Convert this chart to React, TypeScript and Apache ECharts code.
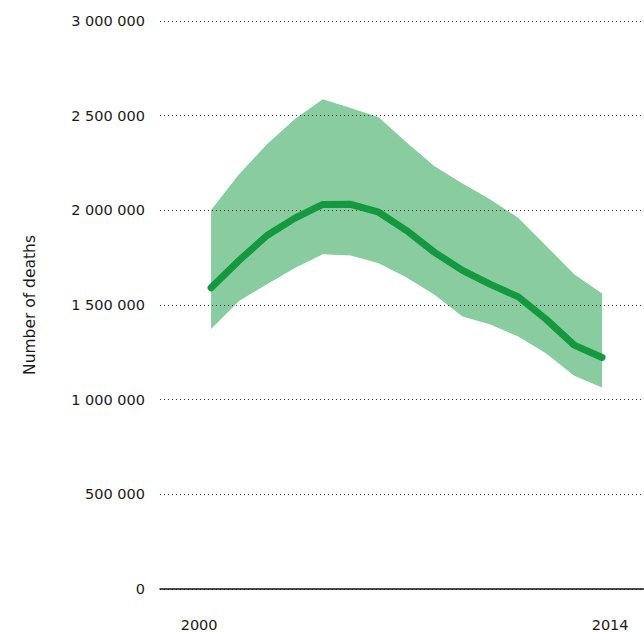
import React, { useEffect, useRef } from "react";
import * as echarts from "echarts";

const years = [2000, 2001, 2002, 2003, 2004, 2005, 2006, 2007, 2008, 2009, 2010, 2011, 2012, 2013, 2014];
const deaths = [1591000, 1735000, 1867000, 1959000, 2031000, 2032000, 1990000, 1893000, 1778000, 1683000, 1609000, 1543000, 1424000, 1288000, 1223000];
const upperBound = [2002000, 2190000, 2349000, 2482000, 2587000, 2541000, 2492000, 2358000, 2233000, 2142000, 2057000, 1960000, 1812000, 1663000, 1561000];
const lowerBound = [1373000, 1521000, 1610000, 1696000, 1768000, 1761000, 1720000, 1645000, 1554000, 1439000, 1397000, 1333000, 1244000, 1126000, 1064000];
const xLabelValues = [2000, 2014];
const yTicks = [0, 500000, 1000000, 1500000, 2000000, 2500000, 3000000];
const yAxisName = "Number of deaths";

const FONT = "DejaVu Sans";
const TEXT = "#1a1a1a";

export default function App() {
  const ref = useRef<HTMLDivElement>(null);
  useEffect(() => {
    document.body.style.margin = "0";
    const chart = echarts.init(ref.current!, undefined, { renderer: "svg" });
    const fmt = (v: number) => String(v).replace(/\B(?=(\d{3})+(?!\d))/g, " ");
    const bandData = years.map((y, i) => [y, lowerBound[i], upperBound[i]]);
    chart.setOption({
      animation: false,
      grid: { left: 160, right: 0, top: 21, bottom: 43, containLabel: false },
      xAxis: {
        type: "value",
        min: 1998.17,
        max: 2015.5,
        z: 3,
        axisLine: { show: true, lineStyle: { color: "#111", width: 1.5 } },
        axisTick: { show: false },
        splitLine: { show: false },
        axisLabel: {
          customValues: xLabelValues,
          margin: 28,
          color: TEXT,
          fontFamily: FONT,
          fontSize: 14.5,
          formatter: (v: number) => (v === 2000 ? "{a|" + v + "}" : "{b|" + v + "}"),
          rich: {
            a: { padding: [0, 24, 0, 0], color: TEXT, fontFamily: FONT, fontSize: 14.5 },
            b: { padding: [0, 0, 0, 16], color: TEXT, fontFamily: FONT, fontSize: 14.5 },
          },
        },
      },
      yAxis: {
        type: "value",
        min: yTicks[0],
        max: yTicks[yTicks.length - 1],
        interval: 500000,
        z: 3,
        name: yAxisName,
        nameLocation: "middle",
        nameGap: 122,
        nameTextStyle: { color: TEXT, fontFamily: FONT, fontSize: 15.5 },
        axisLine: { show: false },
        axisTick: { show: false },
        axisLabel: { margin: 15, color: TEXT, fontFamily: FONT, fontSize: 14.5, formatter: fmt },
        splitLine: {
          show: true,
          lineStyle: { color: "#333", type: [1, 3], width: 1 },
        },
      },
      series: [
        {
          type: "custom",
          data: bandData,
          z: 2,
          silent: true,
          encode: { x: 0, y: [1, 2] },
          renderItem: (params: any, api: any) => {
            if (params.dataIndex !== 0) return null;
            const top = bandData.map((d) => api.coord([d[0], d[2]]));
            const bottom = bandData.map((d) => api.coord([d[0], d[1]])).reverse();
            return {
              type: "polygon",
              shape: { points: top.concat(bottom) },
              style: { fill: "#88cc9f" },
            };
          },
        },
        {
          type: "line",
          data: years.map((y, i) => [y, deaths[i]]),
          symbol: "none",
          lineStyle: { color: "#14993f", width: 7, cap: "round", join: "round" },
          z: 5,
        },
      ],
    });
    return () => chart.dispose();
  }, []);
  return <div ref={ref} style={{ width: 644, height: 632 }} />;
}
